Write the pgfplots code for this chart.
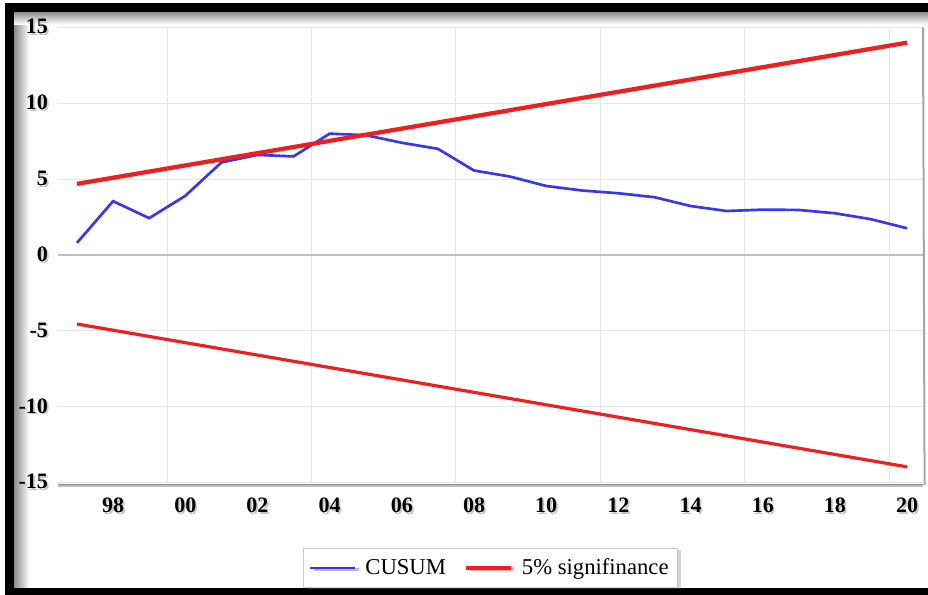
\documentclass[border=0pt]{standalone}
\usepackage{fontspec}
\setmainfont{Liberation Serif}
\usepackage{pgfplots}
\pgfplotsset{compat=1.18}
\usetikzlibrary{shadows}

\definecolor{cusumblue}{RGB}{55,55,235}
\definecolor{sigred}{RGB}{240,30,30}

% tick label with a soft grey shadow
\newcommand\sh[1]{\rlap{\kern1.3pt\raisebox{-1.3pt}{\color{black!22}#1}}#1}

\pgfplotstableread{
year cusum
1997 0.80
1998 3.55
1999 2.43
2000 3.90
2001 6.10
2002 6.60
2003 6.50
2004 8.00
2005 7.90
2006 7.40
2007 7.00
2008 5.57
2009 5.17
2010 4.55
2011 4.25
2012 4.07
2013 3.81
2014 3.23
2015 2.90
2016 2.99
2017 2.97
2018 2.75
2019 2.36
2020 1.76
}\cusumdata

\pgfplotstableread{
year upper lower
1997 4.69 -4.55
2020 14.00 -13.97
}\bands

\begin{document}
\begin{tikzpicture}[x=1pt,y=1pt]
\useasboundingbox (0,0) rectangle (696,446.25);
% frame
\shade[left color=black!45, right color=white] (10.5,5.25) rectangle (22,437.25);
\shade[top color=black!45, bottom color=white] (10.5,437.25) rectangle (696,428);
\fill[black] (3.75,0) rectangle (10.5,444);
\fill[black] (3.75,437.25) rectangle (696,444);
\fill[black] (3.75,0) rectangle (696,5.25);

\begin{axis}[
  at={(43.5pt,84.375pt)}, anchor=south west,
  scale only axis, width=648.75pt, height=341.25pt,
  xmin=1996.474, xmax=2020.44, ymin=-15, ymax=15,
  axis line style={draw=none},
  xtick={1998,2000,...,2020},
  xticklabels={\sh{98},\sh{00},\sh{02},\sh{04},\sh{06},\sh{08},\sh{10},\sh{12},\sh{14},\sh{16},\sh{18},\sh{20}},
  ytick={-15,-10,...,15},
  yticklabels={\sh{-15},\sh{-10},\sh{-5},\sh{0},\sh{5},\sh{10},\sh{15}},
  major tick length=0pt,
  tick label style={font=\fontsize{16.5}{18}\selectfont\bfseries},
  xticklabel style={yshift=-8pt},
  yticklabel style={xshift=-4pt},
  ymajorgrids=true,
  major grid style={draw=black!10, line width=0.8pt},
  extra x ticks={1999.5,2003.5,2007.5,2011.5,2015.5,2019.5},
  extra x tick labels={},
  extra x tick style={xmajorgrids=true, ymajorgrids=false},
  extra y ticks={0},
  extra y tick labels={},
  extra y tick style={ymajorgrids=true, major grid style={draw=black!25, line width=1.1pt}},
  legend columns=2,
  legend style={at={(0.5,-0.144)}, anchor=north, draw=black!20, fill=white,
    font=\fontsize{17}{20}\selectfont,
    inner xsep=4pt, inner ysep=3.5pt,
    nodes={inner xsep=2.5pt, inner ysep=4.5pt},
    /tikz/every odd column/.append style={column sep=4pt},
    /tikz/every even column/.append style={column sep=11pt},
    drop shadow={shadow xshift=2.5pt, shadow yshift=-1pt, opacity=0.35}},
  legend image code/.code={\draw[#1] (0pt,0pt) -- (33.75pt,0pt);},
  after end axis/.code={
    \draw[black!25, line width=2.5pt] (rel axis cs:0,0) ++(0,-2.5pt) -- ++(648.75pt,0);
    \draw[black!45, line width=1.3pt] (rel axis cs:0,0) ++(0,-1.5pt) -- ++(648.75pt,0);
    \draw[black!35, line width=1.5pt] (rel axis cs:1,0) ++(1.2pt,-2pt) -- (rel axis cs:1,1);
  },
]
\addplot[cusumblue, line width=2pt] table[x=year, y=cusum] {\cusumdata};
\addlegendentry{CUSUM}
\addplot[sigred, line width=3.2pt] table[x=year, y=upper] {\bands};
\addlegendentry{5\% signifinance}
\addplot[sigred, line width=2.4pt, forget plot] table[x=year, y=lower] {\bands};
\end{axis}
\end{tikzpicture}
\end{document}
